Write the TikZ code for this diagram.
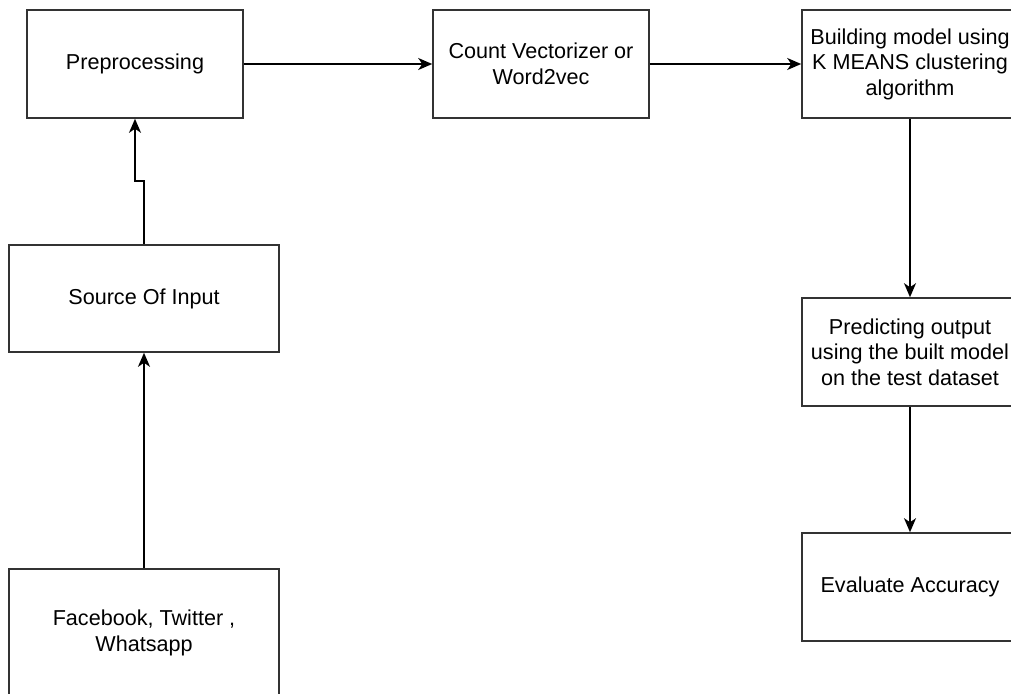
\documentclass[tikz,border=0pt]{standalone}
\usepackage{fontspec}
\setmainfont{Liberation Sans}
\usetikzlibrary{arrows.meta}

\begin{document}
\begin{tikzpicture}[x=1pt, y=-1pt,
	box/.style={draw=black!80, line width=1.6pt, rectangle, minimum width=#1, align=center, font=\fontsize{21.6pt}{25.5pt}\selectfont, inner sep=0pt},
	box/.default=216pt,
	flow/.style={draw=black, line width=1.5pt, -{Stealth[length=14pt, width=12pt, inset=4pt]}}
	]
	\useasboundingbox (0,0) rectangle (1011,693);
	\clip (0,0) rectangle (1011,693);

	\node[box, minimum height=108pt] (prep) at (135,64) {Preprocessing};
	\node[box, minimum height=108pt] (vec) at (541,64) {Count Vectorizer or\\Word2vec};
	\node[box, minimum height=108pt] (build) at (910,64) {Building model using\\K MEANS clustering\\algorithm};
	\node[box=270pt, minimum height=107pt] (src) at (144,298.5) {Source Of Input};
	\node[box=270pt, minimum height=128pt] (fb) at (144,633) {Facebook, Twitter ,\\Whatsapp};
	\node[box, minimum height=108pt] (pred) at (910,352) {Predicting output\\using the built model\\on the test dataset};
	\node[box, minimum height=108pt] (eval) at (910,587) {Evaluate Accuracy};

	\coordinate (jog) at (144,181);

	\draw[flow] (fb.north) -- (src.south);
	\draw[flow] (src.north) -- (jog) -| (prep.south);
	\draw[flow] (prep.east) -- (vec.west);
	\draw[flow] (vec.east) -- (build.west);
	\draw[flow] (build.south) -- (pred.north);
	\draw[flow] (pred.south) -- (eval.north);

\end{tikzpicture}
\end{document}
